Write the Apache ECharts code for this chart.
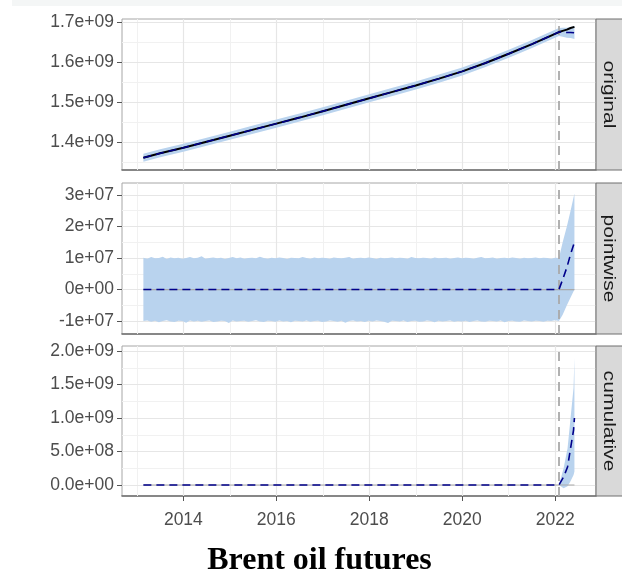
<!DOCTYPE html>
<html>
<head>
<meta charset="utf-8">
<script src="https://cdn.jsdelivr.net/npm/echarts@6/dist/echarts.min.js"></script>
<style>
  html, body { margin: 0; padding: 0; background: #ffffff; }
  #chart { width: 622px; height: 576px; }
</style>
</head>
<body>
<div id="chart"></div>
<script>
// ---------------------------------------------------------------
// Data (decimal years on the x axis)
// ---------------------------------------------------------------
const interventionYear = 2022.08;
const seriesStartYear = 2013.14;
const seriesEndYear = 2022.413;

// Top panel: observed series, model prediction and its interval
const obsYears = [2013.14, 2013.5, 2014, 2014.5, 2015, 2015.5, 2016, 2016.5, 2017, 2017.5, 2018, 2018.5,
                  2019, 2019.5, 2020, 2020.5, 2021, 2021.5, 2022.08, 2022.16, 2022.25, 2022.33, 2022.413];
const observed = [1.362e9, 1.373e9, 1.387e9, 1.402e9, 1.417e9, 1.432e9, 1.447e9, 1.462e9, 1.478e9, 1.494e9,
                  1.510e9, 1.526e9, 1.542e9, 1.559e9, 1.577e9, 1.598e9, 1.621e9, 1.645e9, 1.675e9, 1.678e9,
                  1.681e9, 1.685e9, 1.688e9];
const predicted = [1.362e9, 1.373e9, 1.387e9, 1.402e9, 1.417e9, 1.432e9, 1.447e9, 1.462e9, 1.478e9, 1.494e9,
                   1.510e9, 1.526e9, 1.542e9, 1.559e9, 1.577e9, 1.598e9, 1.621e9, 1.645e9, 1.675e9, 1.6748e9,
                   1.674e9, 1.6738e9, 1.673e9];
const predLower = [1.352e9, 1.363e9, 1.377e9, 1.392e9, 1.407e9, 1.422e9, 1.437e9, 1.452e9, 1.468e9, 1.484e9,
                   1.500e9, 1.516e9, 1.532e9, 1.549e9, 1.567e9, 1.588e9, 1.611e9, 1.635e9, 1.665e9, 1.663e9,
                   1.661e9, 1.660e9, 1.6575e9];
const predUpper = [1.372e9, 1.383e9, 1.397e9, 1.412e9, 1.427e9, 1.442e9, 1.457e9, 1.472e9, 1.488e9, 1.504e9,
                   1.520e9, 1.536e9, 1.552e9, 1.569e9, 1.587e9, 1.608e9, 1.631e9, 1.655e9, 1.685e9, 1.686e9,
                   1.686e9, 1.6875e9, 1.690e9];

// Middle panel: pointwise effect (millions). Monthly interval edges over the pre-period
const pointUpperPreM = [10.1, 9.8, 10.3, 9.9, 10.0, 10.4, 9.7, 10.2, 9.9, 10.1, 9.8, 10.0, 10.3, 9.9, 10.1, 10.6,
  9.8, 10.0, 10.2, 9.9, 10.1, 9.7, 10.0, 10.3, 9.9, 10.2, 9.8, 10.0, 10.1, 9.9, 10.4, 10.0, 9.8, 10.1, 9.9, 10.2,
  10.0, 9.7, 10.1, 10.0, 9.9, 10.3, 10.0, 9.8, 10.2, 9.9, 10.1, 10.0, 9.8, 10.2, 10.0, 9.9, 10.1, 10.3, 9.8, 10.0,
  10.1, 9.9, 10.2, 10.0, 9.7, 10.1, 9.9, 10.0, 10.2, 9.9, 10.1, 10.0, 9.8, 10.3, 10.0, 9.9, 10.1, 10.0, 9.8, 10.2,
  9.9, 10.0, 10.1, 9.8, 10.0, 10.2, 9.9, 10.1, 10.0, 9.8, 10.1, 10.3, 9.9, 10.0, 10.2, 9.8, 10.0, 10.1, 9.9, 10.2,
  10.0, 9.8, 10.1, 9.9, 10.0, 10.2, 9.9, 10.1, 10.0, 9.8, 10.1, 10.0];
const pointLowerPreM = [-10.0, -9.8, -10.2, -9.9, -10.4, -10.0, -9.7, -10.1, -10.3, -9.9, -10.0, -10.5, -9.8, -10.1,
  -9.9, -10.2, -10.0, -9.8, -10.3, -10.1, -9.9, -10.0, -10.6, -9.8, -10.1, -10.0, -9.9, -10.2, -10.0, -9.7, -10.1,
  -10.3, -9.9, -10.0, -10.2, -9.8, -10.1, -10.0, -10.4, -9.9, -10.0, -10.1, -9.8, -10.2, -10.0, -9.9, -10.3, -10.1,
  -9.8, -10.0, -10.2, -9.9, -10.5, -10.0, -9.8, -10.1, -10.0, -10.3, -9.9, -10.1, -9.8, -10.0, -10.2, -10.6, -9.9,
  -10.0, -10.1, -9.8, -10.3, -10.0, -9.9, -10.2, -10.1, -9.8, -10.0, -10.4, -9.9, -10.1, -10.0, -9.8, -10.2, -10.0,
  -10.1, -9.9, -10.3, -10.0, -9.8, -10.1, -10.2, -9.9, -10.0, -10.1, -9.8, -10.4, -10.0, -9.9, -10.1, -10.2, -9.8,
  -10.0, -10.1, -9.9, -10.0, -10.2, -9.9, -10.0, -9.7, -10.0];
// Post-period pointwise effect and interval (millions)
const postYears = [2022.08, 2022.16, 2022.25, 2022.33, 2022.413];
const pointMeanPostM = [0, 3.2, 7.0, 11.2, 15.0];
const pointUpperPostM = [10.0, 15.0, 20.0, 25.0, 30.5];
const pointLowerPostM = [-10.0, -8.0, -5.0, -2.5, 0.0];

// Bottom panel: cumulative effect
const cumYears = [2022.08, 2022.18, 2022.265, 2022.323, 2022.394, 2022.413];
const cumMean  = [0, 0.12e9, 0.27e9, 0.52e9, 0.82e9, 1.0e9];
const cumUpper = [0, 0.25e9, 0.55e9, 0.95e9, 1.45e9, 1.90e9];
const cumLower = [0, -0.05e9, -0.02e9, 0.05e9, 0.15e9, 0.2e9];

// Axis breaks and labels
const yearTicks = [2014, 2016, 2018, 2020, 2022];
const yearMinor = [2013, 2015, 2017, 2019, 2021];
const origTicks = [1.4e9, 1.5e9, 1.6e9, 1.7e9];
const origLabels = ['1.4e+09', '1.5e+09', '1.6e+09', '1.7e+09'];
const origMinor = [1.35e9, 1.45e9, 1.55e9, 1.65e9];
const pointTicks = [-1e7, 0, 1e7, 2e7, 3e7];
const pointLabels = ['-1e+07', '0e+00', '1e+07', '2e+07', '3e+07'];
const pointMinor = [-0.5e7, 0.5e7, 1.5e7, 2.5e7];
const cumTicks = [0, 0.5e9, 1.0e9, 1.5e9, 2.0e9];
const cumLabels = ['0.0e+00', '5.0e+08', '1.0e+09', '1.5e+09', '2.0e+09'];
const cumMinor = [0.25e9, 0.75e9, 1.25e9, 1.75e9];
const panelNames = ['original', 'pointwise', 'cumulative'];
const chartTitle = 'Brent oil futures';

// ---------------------------------------------------------------
// Layout and style
// ---------------------------------------------------------------
const W = 622;
const plotLeft = 122, plotRight = 596;
const panelTops = [19, 183, 346];
const panelHeights = [151, 151, 150];
const xRange = [2012.68, 2022.877];
const yRanges = [[1.3315e9, 1.7075e9], [-1.41e7, 3.38e7], [-0.164e9, 2.075e9]];
const bandColor = '#b9d3ee';
const meanColor = '#00008b';
const refColor = '#a9a9a9';
const gridMajor = '#e6e6e6';
const gridMinor = '#f1f1f1';
const labelColor = '#4d4d4d';
const sansFont = '"Liberation Sans", Arial, sans-serif';
const tickFontSize = 17.5;

// Monthly x positions of the pre-period interval edges
function sampleYears(n) {
  const out = [];
  for (let i = 0; i < n; i++) out.push(seriesStartYear + i * (interventionYear - seriesStartYear) / (n - 1));
  return out;
}
const upperYears = sampleYears(pointUpperPreM.length).concat(postYears.slice(1));
const lowerYears = sampleYears(pointLowerPreM.length).concat(postYears.slice(1));
const pointUpper = pointUpperPreM.concat(pointUpperPostM.slice(1)).map(v => v * 1e6);
const pointLower = pointLowerPreM.concat(pointLowerPostM.slice(1)).map(v => v * 1e6);
const pointMeanYears = [seriesStartYear].concat(postYears);
const pointMean = [0].concat(pointMeanPostM.map(v => v * 1e6));

const zip = (xs, ys) => xs.map((x, i) => [x, ys[i]]);

// Filled interval drawn as a single polygon through the axis scales
function bandSeries(idx, upX, upY, loX, loY) {
  return {
    type: 'custom', xAxisIndex: idx, yAxisIndex: idx, z: 2, silent: true, clip: true,
    data: [[upX[0], upY[0]]],
    renderItem: function (params, api) {
      const pts = [];
      for (let i = 0; i < upX.length; i++) pts.push(api.coord([upX[i], upY[i]]));
      for (let i = loX.length - 1; i >= 0; i--) pts.push(api.coord([loX[i], loY[i]]));
      return { type: 'polygon', shape: { points: pts }, style: { fill: bandColor } };
    }
  };
}

function lineSeries(idx, data, color, width, dashed, z) {
  return {
    type: 'line', xAxisIndex: idx, yAxisIndex: idx, data: data, showSymbol: false, symbol: 'none',
    silent: true, z: z, animation: false,
    lineStyle: { color: color, width: width, type: dashed ? [8, 5] : 'solid', cap: 'butt' }
  };
}

// Background grid lines for a panel
function gridSeries(idx, yMajor, yMinor) {
  const data = [];
  yearMinor.forEach(v => data.push({ xAxis: v, lineStyle: { color: gridMinor, width: 1, type: 'solid' } }));
  yMinor.forEach(v => data.push({ yAxis: v, lineStyle: { color: gridMinor, width: 1, type: 'solid' } }));
  yearTicks.forEach(v => data.push({ xAxis: v, lineStyle: { color: gridMajor, width: 1.2, type: 'solid' } }));
  yMajor.forEach(v => data.push({ yAxis: v, lineStyle: { color: gridMajor, width: 1.2, type: 'solid' } }));
  return {
    type: 'line', xAxisIndex: idx, yAxisIndex: idx, data: [], z: 1, silent: true,
    markLine: { z: 1, silent: true, symbol: 'none', label: { show: false }, animation: false, data: data }
  };
}

// Intervention marker
function vlineSeries(idx) {
  return {
    type: 'line', xAxisIndex: idx, yAxisIndex: idx, data: [], z: 3, silent: true,
    markLine: {
      z: 3, silent: true, symbol: 'none', label: { show: false }, animation: false,
      data: [{ xAxis: interventionYear, lineStyle: { color: refColor, width: 1.8, type: [9, 6] } }]
    }
  };
}

const grids = [], xAxes = [], yAxes = [];
const yTickSets = [[origTicks, origLabels], [pointTicks, pointLabels], [cumTicks, cumLabels]];
for (let i = 0; i < 3; i++) {
  grids.push({
    left: plotLeft, width: plotRight - plotLeft, top: panelTops[i], height: panelHeights[i],
    show: true, borderColor: '#a6a6a6', borderWidth: 1, backgroundColor: '#ffffff'
  });
  const bottom = i === 2;
  xAxes.push({
    type: 'value', gridIndex: i, min: xRange[0], max: xRange[1],
    axisLine: { show: true, onZero: false, lineStyle: { color: '#6f6f6f', width: 1.6 } },
    axisTick: { show: bottom, customValues: yearTicks, length: 5, lineStyle: { color: '#555555', width: 1 } },
    axisLabel: {
      show: bottom, customValues: yearTicks, color: labelColor, fontSize: tickFontSize, fontFamily: sansFont,
      margin: 15, formatter: v => String(Math.round(v))
    },
    splitLine: { show: false }
  });
  const ticks = yTickSets[i][0], labels = yTickSets[i][1];
  yAxes.push({
    type: 'value', gridIndex: i, min: yRanges[i][0], max: yRanges[i][1],
    axisLine: { show: false },
    axisTick: { show: true, customValues: ticks, length: 5, lineStyle: { color: '#555555', width: 1 } },
    axisLabel: {
      customValues: ticks, color: labelColor, fontSize: tickFontSize, fontFamily: sansFont, margin: 8,
      formatter: v => {
        let k = 0, best = Infinity;
        ticks.forEach((t, j) => { const d = Math.abs(t - v); if (d < best) { best = d; k = j; } });
        return labels[k];
      }
    },
    splitLine: { show: false }
  });
}

const series = [
  // original
  gridSeries(0, origTicks, origMinor),
  bandSeries(0, obsYears, predUpper, obsYears, predLower),
  vlineSeries(0),
  lineSeries(0, zip(obsYears, observed), '#000000', 2, false, 4),
  lineSeries(0, zip(obsYears, predicted), meanColor, 1.5, true, 5),
  // pointwise
  gridSeries(1, pointTicks, pointMinor),
  bandSeries(1, upperYears, pointUpper, lowerYears, pointLower),
  vlineSeries(1),
  lineSeries(1, [[seriesStartYear, 0], [seriesEndYear, 0]], refColor, 1.2, false, 3),
  lineSeries(1, zip(pointMeanYears, pointMean), meanColor, 1.6, true, 5),
  // cumulative
  gridSeries(2, cumTicks, cumMinor),
  bandSeries(2, cumYears, cumUpper, cumYears, cumLower),
  vlineSeries(2),
  lineSeries(2, [[seriesStartYear, 0], [seriesEndYear, 0]], refColor, 1.2, false, 3),
  lineSeries(2, zip([seriesStartYear].concat(cumYears), [0].concat(cumMean)), meanColor, 1.6, true, 5)
];

// Facet strips on the right-hand side and the caption
const graphics = [
  { type: 'rect', shape: { x: 12, y: 0, width: W - 12, height: 6 }, style: { fill: '#f4f6f6' }, silent: true }
];
for (let i = 0; i < 3; i++) {
  graphics.push({
    type: 'rect', silent: true, z: 10,
    shape: { x: plotRight, y: panelTops[i], width: 32, height: panelHeights[i] },
    style: { fill: '#d9d9d9', stroke: '#6f6f6f', lineWidth: 1 }
  });
  graphics.push({
    type: 'text', silent: true, z: 11,
    x: 609, y: panelTops[i] + panelHeights[i] / 2, rotation: -Math.PI / 2, scaleX: 1.24, scaleY: 1,
    style: {
      text: panelNames[i], fill: '#1a1a1a', font: '17px ' + sansFont,
      textAlign: 'center', textVerticalAlign: 'middle'
    }
  });
}
graphics.push({
  type: 'text', silent: true, z: 11, x: 319.5, y: 561,
  style: {
    text: chartTitle, fill: '#000000', font: 'bold 32px "Liberation Serif", "Times New Roman", serif',
    textAlign: 'center', textVerticalAlign: 'middle'
  }
});

const chart = echarts.init(document.getElementById('chart'), null, { renderer: 'canvas' });
chart.setOption({
  animation: false,
  backgroundColor: '#ffffff',
  grid: grids,
  xAxis: xAxes,
  yAxis: yAxes,
  series: series,
  graphic: graphics
});
</script>
</body>
</html>
